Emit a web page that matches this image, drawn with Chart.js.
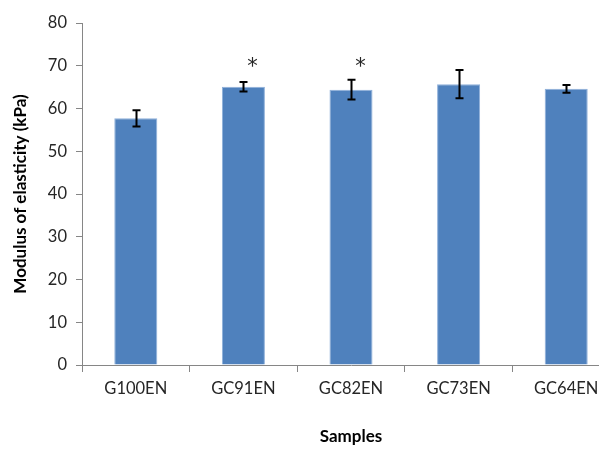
<!DOCTYPE html>
<html>
<head>
<meta charset="utf-8">
<script src="https://cdn.jsdelivr.net/npm/chart.js@4/dist/chart.umd.min.js"></script>
<style>
  html, body { margin: 0; padding: 0; background: #ffffff; overflow: hidden; }
  #wrap { width: 620px; height: 451px; }
</style>
</head>
<body>
<div id="wrap"><canvas id="c" width="620" height="451"></canvas></div>
<script>
// Sample groups and measured modulus (kPa) with standard deviations
const samples = ['G100EN', 'GC91EN', 'GC82EN', 'GC73EN', 'GC64EN'];
const modulus = [57.7, 65.1, 64.4, 65.7, 64.6];
const errors = [1.9, 1.1, 2.3, 3.3, 0.9];
const significant = [false, true, true, false, false];
const yTicks = [0, 10, 20, 30, 40, 50, 60, 70, 80];

const FONT = 'Lato, "Open Sans", sans-serif';
const AXIS_GRAY = '#868686';

// Error bars and significance stars drawn over the bars
const errorBarPlugin = {
  id: 'errorBars',
  afterDatasetsDraw(chart, args, opts) {
    const ctx = chart.ctx;
    const x = chart.scales.x, y = chart.scales.y;
    ctx.save();
    ctx.strokeStyle = '#000000';
    ctx.lineWidth = 2;
    modulus.forEach((v, i) => {
      const cx = Math.round(x.getPixelForValue(i)) + 0.5;
      const top = y.getPixelForValue(v + errors[i]);
      const bot = y.getPixelForValue(v - errors[i]);
      const half = opts.capHalf;
      ctx.beginPath();
      ctx.moveTo(cx, top); ctx.lineTo(cx, bot);
      ctx.moveTo(cx - half, top); ctx.lineTo(cx + half, top);
      ctx.moveTo(cx - half, bot); ctx.lineTo(cx + half, bot);
      ctx.stroke();
      if (significant[i]) {
        ctx.fillStyle = '#262626';
        ctx.font = '21px "DejaVu Sans", sans-serif';
        ctx.textAlign = 'center';
        ctx.textBaseline = 'middle';
        ctx.fillText('*', cx + opts.starShift, y.getPixelForValue(opts.starLevel) + 4);
      }
    });
    ctx.restore();
  }
};

new Chart(document.getElementById('c'), {
  type: 'bar',
  data: {
    labels: samples,
    datasets: [{
      data: modulus,
      backgroundColor: '#4F81BD',
      borderColor: '#8FB0DA',
      borderWidth: 1,
      borderSkipped: 'bottom',
      barPercentage: 0.4,
      categoryPercentage: 1.0
    }]
  },
  options: {
    responsive: false,
    animation: false,
    devicePixelRatio: 1,
    layout: { padding: { top: 23, left: 0, right: 0, bottom: 0 } },
    plugins: {
      legend: { display: false },
      tooltip: { enabled: false },
      errorBars: { capHalf: 4, starLevel: 70.6, starShift: 9 }
    },
    scales: {
      x: {
        grid: {
          display: true,
          offset: true,
          drawOnChartArea: false,
          drawTicks: true,
          tickLength: 7,
          color: AXIS_GRAY,
          lineWidth: 1
        },
        border: { display: true, color: AXIS_GRAY, width: 1 },
        ticks: {
          color: '#262626',
          font: { family: FONT, size: 16.5 },
          padding: 7,
          maxRotation: 0
        },
        title: {
          display: true,
          text: 'Samples',
          color: '#000000',
          font: { family: FONT, size: 17, weight: 'bold' },
          padding: { top: 0, bottom: 4 }
        },
        afterFit(scale) { scale.height = 86; }
      },
      y: {
        min: 0,
        max: 80,
        afterBuildTicks(scale) { scale.ticks = yTicks.map(v => ({ value: v })); },
        grid: {
          display: true,
          drawOnChartArea: false,
          drawTicks: true,
          tickLength: 6,
          color: AXIS_GRAY,
          lineWidth: 1
        },
        border: { display: true, color: AXIS_GRAY, width: 1 },
        ticks: {
          color: '#262626',
          font: { family: FONT, size: 16.5 },
          padding: 9
        },
        title: {
          display: true,
          text: 'Modulus of elasticity (kPa)',
          color: '#000000',
          font: { family: FONT, size: 17, weight: 'bold' },
          padding: { top: 10, bottom: 0 }
        },
        afterFit(scale) { scale.width = 82; }
      }
    }
  },
  plugins: [errorBarPlugin]
});
</script>
</body>
</html>
